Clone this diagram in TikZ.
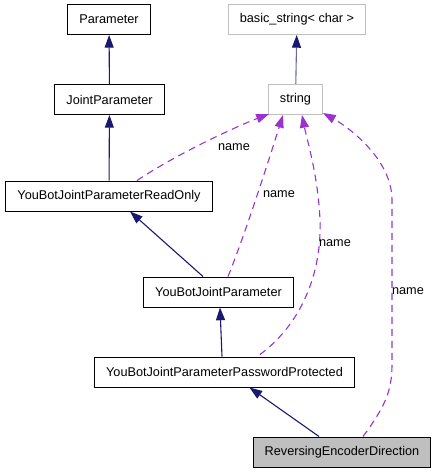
\documentclass[tikz,border=0pt]{standalone}
\usepackage{fontspec}
\setmainfont{Liberation Sans}
\usepackage{tikz}
\usetikzlibrary{arrows.meta, positioning}
\definecolor{navyline}{HTML}{191970}
\definecolor{orchid}{HTML}{9A32CD}
\definecolor{greybox}{HTML}{BFBFBF}
\tikzstyle{cls}=[draw=black,line width=1pt,minimum height=30pt,inner xsep=11.5pt,inner ysep=0pt,font=\fontsize{12.7}{14}\selectfont]
\tikzstyle{extcls}=[cls,draw=greybox]
\tikzstyle{focus}=[cls,fill=greybox]
\tikzstyle{inh}=[-{Triangle[length=12.7pt,width=9pt,color=navyline]},line width=1.1pt,color=navyline]
\tikzstyle{use}=[-{Triangle[length=12.7pt,width=9pt]},line width=1.1pt,color=orchid,dash pattern=on 7pt off 5pt]
\tikzstyle{lbl}=[font=\fontsize{12.7}{14}\selectfont,inner sep=0pt]

\begin{document}
\begin{tikzpicture}[x=1pt,y=-1pt]
  \useasboundingbox (0,0) rectangle (435,472);
  \node[cls] (param) at (109,19.5) {Parameter};
  \node[cls] (jp) at (109.5,99.5) {JointParameter};
  \node[cls] (ro) at (109,196) {YouBotJointParameterReadOnly};
  \node[extcls] (bstr) at (297,19.5) {basic\_string< char >};
  \node[extcls] (str) at (295.5,99.5) {string};
  \node[cls] (yjp) at (218.5,292) {YouBotJointParameter};
  \node[cls] (pp) at (224.5,372) {YouBotJointParameterPasswordProtected};
  \node[focus] (red) at (342,452) {ReversingEncoderDirection};

  % inheritance
  \draw[inh] (jp) -- (param);
  \draw[inh] (ro) -- (jp);
  \draw[inh,color=navyline!65] (str) -- (bstr);
  \draw[inh] ([xshift=-15.5pt]yjp.north) -- ([xshift=21pt]ro.south);
  \draw[inh] ([xshift=-2.5pt]pp.north) -- ([xshift=1.5pt]yjp.south);
  \draw[inh] ([xshift=-23pt]red.north) -- ([xshift=25pt]pp.south);

  % usage
  \draw[use] ([xshift=28pt]ro.north) .. controls (180,152) and (240,125) .. ([xshift=1pt,yshift=1pt]str.south west);
  \draw[use] ([xshift=9.5pt]yjp.north) .. controls (245,235) and (272,150) .. ([xshift=-12.5pt]str.south);
  \draw[use] ([xshift=35.5pt,yshift=2pt]pp.north) .. controls (300,325) and (322,275) .. (320,220)
    .. controls (318,175) and (307,140) .. ([xshift=6.5pt]str.south);
  \draw[use] ([xshift=21pt]red.north) .. controls (384,408) and (392,392) .. (392,365)
    -- (392,200) .. controls (392,160) and (350,128) .. ([yshift=2pt]str.south east);

  \node[lbl] (n1) at (234,147) {name};
  \node[lbl] (n2) at (279,194) {name};
  \node[lbl] (n3) at (335,243) {name};
  \node[lbl] (n4) at (408,291) {name};
\end{tikzpicture}
\end{document}
